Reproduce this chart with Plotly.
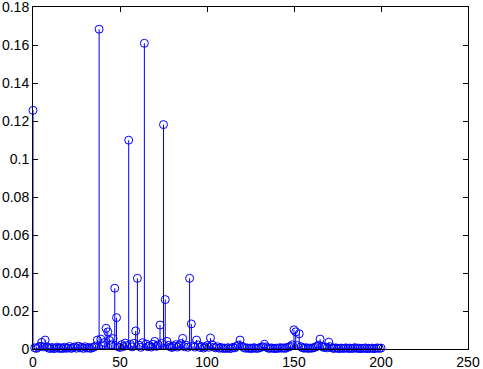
import plotly.graph_objects as go

x_vals = list(range(0, 201))
y_vals = [
    0.1256, 0.0006, 0.0003, 0.0009, 0.0014, 0.0035, 0.0011, 0.0047, 0.0012, 0.0004,
    0.0003, 0.0008, 0.0002, 0.0005, 0.0010, 0.0003, 0.0006, 0.0002, 0.0009, 0.0004,
    0.0005, 0.0013, 0.0003, 0.0007, 0.0011, 0.0004, 0.0015, 0.0006, 0.0009, 0.0003,
    0.0012, 0.0005, 0.0008, 0.0003, 0.0007, 0.0010, 0.0016, 0.0047, 0.1683, 0.0052,
    0.0021, 0.0034, 0.0109, 0.0090, 0.0045, 0.0022, 0.0055, 0.0320, 0.0165, 0.0012,
    0.0008, 0.0023, 0.0013, 0.0031, 0.0018, 0.1099, 0.0024, 0.0011, 0.0030, 0.0095,
    0.0372, 0.0020, 0.0009, 0.0033, 0.1609, 0.0026, 0.0012, 0.0018, 0.0010, 0.0025,
    0.0040, 0.0014, 0.0022, 0.0126, 0.0030, 0.1181, 0.0260, 0.0040, 0.0019, 0.0011,
    0.0008, 0.0015, 0.0023, 0.0010, 0.0017, 0.0028, 0.0056, 0.0012, 0.0020, 0.0009,
    0.0372, 0.0132, 0.0016, 0.0010, 0.0047, 0.0021, 0.0008, 0.0013, 0.0005, 0.0011,
    0.0018, 0.0009, 0.0058, 0.0022, 0.0010, 0.0006, 0.0012, 0.0004, 0.0008, 0.0003,
    0.0005, 0.0003, 0.0007, 0.0002, 0.0004, 0.0009, 0.0006, 0.0014, 0.0020, 0.0047,
    0.0015, 0.0008, 0.0004, 0.0006, 0.0003, 0.0005, 0.0002, 0.0007, 0.0004, 0.0003,
    0.0006, 0.0009, 0.0012, 0.0025, 0.0011, 0.0005, 0.0003, 0.0006, 0.0004, 0.0002,
    0.0005, 0.0003, 0.0007, 0.0004, 0.0006, 0.0003, 0.0008, 0.0011, 0.0014, 0.0022,
    0.0101, 0.0090, 0.0018, 0.0080, 0.0012, 0.0006, 0.0004, 0.0007, 0.0003, 0.0005,
    0.0004, 0.0006, 0.0009, 0.0013, 0.0020, 0.0052, 0.0014, 0.0008, 0.0011, 0.0006,
    0.0036, 0.0012, 0.0005, 0.0003, 0.0006, 0.0004, 0.0002, 0.0005, 0.0003, 0.0004,
    0.0006, 0.0003, 0.0005, 0.0002, 0.0004, 0.0007, 0.0003, 0.0005, 0.0002, 0.0004,
    0.0003, 0.0006, 0.0002, 0.0004, 0.0003, 0.0005, 0.0002, 0.0004, 0.0006, 0.0003,
    0.0005,
]
x_ticks = [0, 50, 100, 150, 200, 250]
y_ticks = [0, 0.02, 0.04, 0.06, 0.08, 0.1, 0.12, 0.14, 0.16, 0.18]
y_tick_text = ["0", "0.02", "0.04", "0.06", "0.08", "0.1", "0.12", "0.14", "0.16", "0.18"]

stem_x, stem_y = [], []
for xv, yv in zip(x_vals, y_vals):
    stem_x += [xv, xv, None]
    stem_y += [0, yv, None]

fig = go.Figure()
fig.add_trace(go.Scatter(x=stem_x, y=stem_y, mode="lines",
                         line=dict(color="#0000ff", width=1),
                         hoverinfo="skip", showlegend=False))
fig.add_trace(go.Scatter(x=[0, 200], y=[0, 0], mode="lines",
                         line=dict(color="#000000", width=1),
                         hoverinfo="skip", showlegend=False))
fig.add_trace(go.Scatter(x=x_vals, y=y_vals, mode="markers",
                         marker=dict(symbol="circle-open", size=8, color="#0000ff",
                                     line=dict(width=1, color="#0000ff")),
                         cliponaxis=False, showlegend=False))

axis_common = dict(showgrid=False, zeroline=False, showline=True, mirror="ticks",
                   linecolor="black", linewidth=1, ticks="inside", ticklen=5,
                   tickcolor="black", automargin=False, ticklabeloverflow="allow",
                   tickfont=dict(family="Liberation Sans, Arial", size=14, color="black"))
fig.update_layout(
    width=483, height=369,
    margin=dict(l=33, r=15, t=7, b=20),
    paper_bgcolor="white", plot_bgcolor="white",
    showlegend=False,
    xaxis=dict(range=[0, 250.0001], tickvals=x_ticks, **axis_common),
    yaxis=dict(range=[0, 0.180001], tickvals=y_ticks, ticktext=y_tick_text, **axis_common),
)
fig.write_html("out.html")
